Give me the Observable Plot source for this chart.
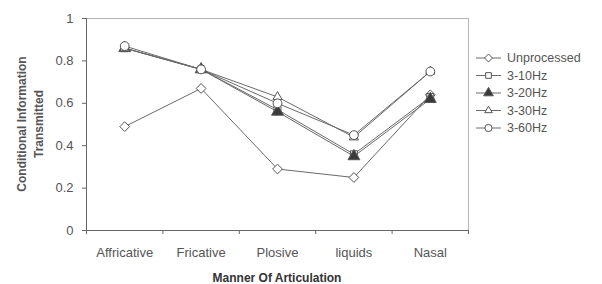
<!DOCTYPE html>
<html>
<head>
<meta charset="utf-8">
<script src="https://cdn.jsdelivr.net/npm/d3@7"></script>
<script src="https://cdn.jsdelivr.net/npm/@observablehq/plot@0.6"></script>
<style>
  html, body { margin: 0; padding: 0; background: white; }
</style>
</head>
<body>
<div id="chart"></div>
<script>
const categories = ["Affricative", "Fricative", "Plosive", "liquids", "Nasal"];
const seriesNames = ["Unprocessed", "3-10Hz", "3-20Hz", "3-30Hz", "3-60Hz"];
const unprocessed = [0.49, 0.67, 0.29, 0.25, 0.64];
const hz3to10 = [0.86, 0.76, 0.57, 0.36, 0.63];
const hz3to20 = [0.86, 0.76, 0.56, 0.35, 0.62];
const hz3to30 = [0.86, 0.76, 0.63, 0.44, 0.75];
const hz3to60 = [0.87, 0.76, 0.60, 0.45, 0.75];
const yTicks = [0, 0.2, 0.4, 0.6, 0.8, 1];
const yTitle = ["Conditional Information", "Transmitted"];
const xTitle = "Manner Of Articulation";

const seriesValues = [unprocessed, hz3to10, hz3to20, hz3to30, hz3to60];
const data = seriesNames.flatMap((s, i) =>
  seriesValues[i].map((v, j) => ({series: s, idx: j, value: v}))
);
const symbolRange = ["diamond2", "square2", "triangle", "triangle2", "circle"];
const fillOf = s => (s === "3-20Hz" ? "#3a3a3a" : "white");
const boundaries = d3.range(categories.length + 1).map(i => i - 0.5);

const lineColor = "#6a6a6a";
const markColor = "#555";
const textColor = "#555";

const svg = Plot.plot({
  width: 602,
  height: 284,
  marginLeft: 86,
  marginRight: 134,
  marginTop: 18,
  marginBottom: 54,
  style: {fontFamily: "'Liberation Sans', Arial, sans-serif", fontSize: "13px", color: textColor, background: "white"},
  x: {type: "linear", domain: [-0.5, categories.length - 0.5], axis: null},
  y: {domain: [0, 1], axis: null},
  symbol: {domain: seriesNames, range: symbolRange},
  color: {type: "identity"},
  marks: [
    Plot.frame({stroke: "#b5b5b5"}),
    Plot.axisY({ticks: yTicks, tickFormat: d => String(d), tickSize: 4, tickPadding: 9, label: null, stroke: "#666"}),
    Plot.axisX({ticks: categories.map((_, i) => i), tickFormat: i => categories[i], tickSize: 0, tickPadding: 17, label: null}),
    Plot.axisX({ticks: boundaries, tickFormat: () => "", tickSize: 4, label: null, stroke: "#666"}),
    Plot.ruleX([-0.5], {stroke: "#666"}),
    Plot.ruleY([0], {stroke: "#666"}),
    Plot.line(data, {x: "idx", y: "value", z: "series", stroke: lineColor, strokeWidth: 1}),
    Plot.dot(data, {x: "idx", y: "value", symbol: "series", r: 4.4, stroke: markColor, strokeWidth: 1, fill: d => fillOf(d.series)})
  ]
});

document.getElementById("chart").appendChild(svg);

const root = d3.select(svg);

// Y-axis title (two lines, rotated)
const yt = root.append("text")
  .attr("transform", "translate(30,124) rotate(-90)")
  .attr("text-anchor", "middle")
  .attr("font-family", "'Liberation Sans', Arial, sans-serif")
  .attr("font-size", 12)
  .attr("font-weight", "bold")
  .attr("fill", "#555");
yTitle.forEach((t, i) => {
  yt.append("tspan").attr("x", 0).attr("y", (i - 0.5) * 17).attr("dy", "0.35em").text(t);
});

// X-axis title
root.append("text")
  .attr("x", 277).attr("y", 278).attr("dy", "0.35em")
  .attr("text-anchor", "middle")
  .attr("font-family", "'Liberation Sans', Arial, sans-serif")
  .attr("font-size", 12)
  .attr("font-weight", "bold")
  .attr("fill", "#333")
  .text(xTitle);

// Legend
const symMap = {diamond2: d3.symbolDiamond2, square2: d3.symbolSquare2, triangle: d3.symbolTriangle, triangle2: d3.symbolTriangle2, circle: d3.symbolCircle};
const lg = root.append("g");
seriesNames.forEach((s, i) => {
  const y = 58 + i * 17.5;
  const g = lg.append("g").attr("transform", `translate(0,${y})`);
  g.append("line").attr("x1", 476).attr("x2", 501).attr("y1", 0).attr("y2", 0).attr("stroke", lineColor);
  g.append("path")
    .attr("transform", "translate(488.5,0)")
    .attr("d", d3.symbol(symMap[symbolRange[i]], 3.6 * 3.6 * Math.PI)())
    .attr("fill", fillOf(s)).attr("stroke", markColor);
  g.append("text").attr("x", 507).attr("y", 0).attr("dy", "0.35em")
    .attr("text-anchor", "start")
    .attr("font-family", "'Liberation Sans', Arial, sans-serif")
    .attr("font-size", 12.5).attr("fill", textColor).text(s);
});
</script>
</body>
</html>
